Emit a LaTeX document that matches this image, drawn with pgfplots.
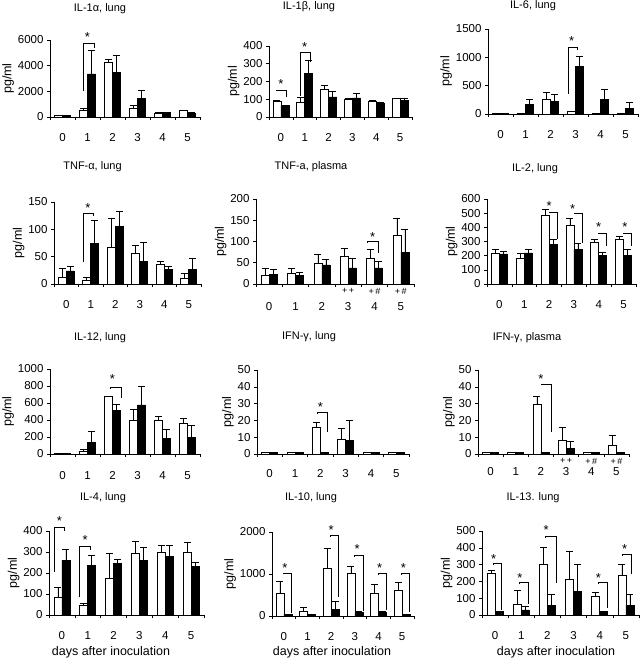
\documentclass[border=0pt]{standalone}
\usepackage{fontspec}
\setmainfont{Liberation Sans}
\usepackage{pgfplots}
\pgfplotsset{compat=1.18}
\pgfplotsset{
 panel/.style={
   scale only axis, anchor=south west, clip=false,
   ybar=0pt, bar width=8pt,
   xmin=-0.5, xmax=5.5, ymin=0,
   axis x line*=bottom, axis y line*=left,
   axis line style={-, line width=0.6pt},
   every tick/.style={black, line width=0.6pt},
   tick align=outside, major tick length=3pt,
   xtick={-0.5,0.5,1.5,2.5,3.5,4.5,5.5}, xticklabels={},
   extra x ticks={0,1,2,3,4,5},
   extra x tick labels={0,1,2,3,4,5},
   extra x tick style={major tick length=0pt},
   scaled y ticks=false,
   /pgf/number format/1000 sep={},
   /pgf/number format/assume math mode=true,
   tick label style={font=\fontsize{11.5}{12}\selectfont},
   x tick label style={yshift=-13pt},
   ylabel={pg/ml}, ylabel shift=-3pt, ylabel style={font=\fontsize{12.5}{14}\selectfont},
 },
 wbar/.style={fill=white, draw=black, line width=0.6pt,
   error bars/y dir=plus, error bars/y explicit,
   error bars/error mark options={rotate=90, mark size=3.5pt, line width=0.6pt, black},
   error bars/error bar style={line width=0.6pt, black}},
 bbar/.style={wbar, fill=black},
}
% xL yL xR yR yTop xAst yAst
\newcommand\brk[7]{\draw[line width=0.6pt] (axis cs:#1,#2) -- (axis cs:#1,#5) -- (axis cs:#3,#5) -- (axis cs:#3,#4);
 \node[font=\fontsize{13}{14}\selectfont, inner sep=0pt, yshift=-2.5pt] at (axis cs:#6,#7) {*};}
\newcommand\ann[2]{\node[font=\fontsize{9}{10}\selectfont, inner sep=0pt, yshift=-7pt] at (axis cs:#1,0) {#2};}
\newcommand\ttl[3]{\node[font=\fontsize{11}{12}\selectfont] at (#1pt,-#2pt) {#3};}
\begin{document}
\begin{tikzpicture}
\useasboundingbox (0pt,0pt) rectangle (640pt,-659pt);
% ---------- row 1
\begin{axis}[panel, at={(50pt,-117pt)}, width=150pt, height=77pt, ymax=6000, ytick={0,2000,4000,6000}]
\addplot[wbar] coordinates {(0,100) +- (0,0) (1,490) +- (0,210) (2,4270) +- (0,260) (3,700) +- (0,180) (4,310) +- (0,40) (5,490) +- (0,40)};
\addplot[bbar] coordinates {(0,150) +- (0,0) (1,3360) +- (0,1810) (2,3470) +- (0,1370) (3,1470) +- (0,600) (4,360) +- (0,30) (5,310) +- (0,30)};
\brk{0.85}{1990}{1.28}{5350}{5740}{1.0}{6390}
\end{axis}
\ttl{100}{9}{IL-1α, lung}
\begin{axis}[panel, at={(269pt,-117pt)}, width=143pt, height=71pt, ymax=400, ytick={0,100,200,300,400}]
\addplot[wbar] coordinates {(0,91) +- (0,3) (1,85) +- (0,28) (2,155) +- (0,25) (3,98) +- (0,6) (4,89) +- (0,5) (5,104) +- (0,3)};
\addplot[bbar] coordinates {(0,66) +- (0,0) (1,245) +- (0,75) (2,113) +- (0,32) (3,108) +- (0,24) (4,75) +- (0,10) (5,94) +- (0,13)};
\brk{-0.19}{145}{0.24}{113}{151}{0.0}{198}
\brk{0.8}{120}{1.22}{311}{362}{1.0}{410}
\end{axis}
\ttl{309}{7}{IL-1β, lung}
\begin{axis}[panel, at={(488pt,-114pt)}, width=150pt, height=85pt, ymax=1500, ytick={0,500,1000,1500}]
\addplot[wbar] coordinates {(0,8) +- (0,0) (1,8) +- (0,0) (2,265) +- (0,117) (3,47) +- (0,0) (4,8) +- (0,0) (5,8) +- (0,0)};
\addplot[bbar] coordinates {(0,8) +- (0,0) (1,165) +- (0,100) (2,224) +- (0,117) (3,841) +- (0,177) (4,253) +- (0,188) (5,94) +- (0,118)};
\brk{2.7}{359}{3.08}{1135}{1182}{2.85}{1324}
\end{axis}
\ttl{533}{6}{IL-6, lung}
% ---------- row 2
\begin{axis}[panel, at={(54pt,-284pt)}, width=147pt, height=82pt, ymax=150, ytick={0,50,100,150}]
\addplot[wbar] coordinates {(0,13) +- (0,15.5) (1,7) +- (0,6) (2,68) +- (0,53) (3,57) +- (0,13) (4,36) +- (0,5) (5,10) +- (0,9)};
\addplot[bbar] coordinates {(0,24) +- (0,9) (1,74) +- (0,43) (2,106) +- (0,27) (3,42) +- (0,35) (4,27) +- (0,5) (5,27) +- (0,20)};
\brk{0.69}{41}{1.12}{125}{130}{0.88}{144}
\end{axis}
\ttl{92.5}{167}{TNF-α, lung}
\begin{axis}[panel, at={(256pt,-284pt)}, width=158pt, height=85pt, ymax=200, ytick={0,50,100,150,200}, x tick label style={yshift=-2pt}]
\addplot[wbar] coordinates {(0,20) +- (0,18) (1,26) +- (0,12) (2,49) +- (0,22) (3,65) +- (0,20) (4,61) +- (0,21) (5,114) +- (0,41)};
\addplot[bbar] coordinates {(0,22) +- (0,13) (1,20) +- (0,8) (2,45) +- (0,12) (3,38) +- (0,23) (4,38) +- (0,15) (5,75) +- (0,53)};
\brk{3.72}{97}{4.16}{73}{100}{3.93}{116}
\ann{3}{+\,+}\ann{4}{+\,\#}\ann{5}{+\,\#}
\end{axis}
\ttl{311}{167}{TNF-a, plasma}
\begin{axis}[panel, at={(487pt,-284pt)}, width=149pt, height=85pt, ymax=600, ytick={0,100,200,300,400,500,600}]
\addplot[wbar] coordinates {(0,219) +- (0,28) (1,184) +- (0,35) (2,482) +- (0,47) (3,412) +- (0,54) (4,294) +- (0,24) (5,318) +- (0,18)};
\addplot[bbar] coordinates {(0,212) +- (0,18) (1,219) +- (0,28) (2,282) +- (0,31) (3,247) +- (0,42) (4,200) +- (0,24) (5,200) +- (0,42)};
\brk{2.02}{500}{2.32}{318}{506}{2.0}{565}
\brk{3.02}{495}{3.32}{289}{501}{2.95}{548}
\brk{3.98}{355}{4.3}{266}{360}{4.0}{419}
\brk{4.98}{355}{5.3}{266}{360}{5.05}{419}
\end{axis}
\ttl{535}{169}{IL-2, lung}
% ---------- row 3
\begin{axis}[panel, at={(50pt,-454pt)}, width=150pt, height=85pt, ymax=1000, ytick={0,200,400,600,800,1000}, x tick label style={yshift=-1pt}]
\addplot[wbar] coordinates {(0,10) +- (0,0) (1,31) +- (0,20) (2,676) +- (0,0) (3,391) +- (0,136) (4,391) +- (0,50) (5,363) +- (0,59)};
\addplot[bbar] coordinates {(0,10) +- (0,0) (1,141) +- (0,132) (2,512) +- (0,74) (3,578) +- (0,223) (4,188) +- (0,97) (5,199) +- (0,137)};
\brk{1.9}{760}{2.37}{664}{781}{2.0}{910}
\end{axis}
\ttl{100}{338}{IL-12, lung}
\begin{axis}[panel, at={(257pt,-454pt)}, width=152pt, height=84pt, ymax=50, ytick={0,10,20,30,40,50}, x tick label style={yshift=1pt}]
\addplot[wbar] coordinates {(0,1) +- (0,0) (1,1) +- (0,0) (2,15.8) +- (0,3) (3,8.5) +- (0,6.9) (4,1) +- (0,0) (5,1) +- (0,0)};
\addplot[bbar] coordinates {(0,1) +- (0,0) (1,1) +- (0,0) (2,1) +- (0,0) (3,8.1) +- (0,11.9) (4,1) +- (0,0) (5,1) +- (0,0)};
\brk{1.88}{24}{2.28}{13}{24.7}{2.0}{29.6}
\end{axis}
\ttl{309}{337}{IFN-γ, lung}
\begin{axis}[panel, at={(478pt,-454pt)}, width=151pt, height=84pt, ymax=50, ytick={0,10,20,30,40,50}, x tick label style={yshift=3pt}]
\addplot[wbar] coordinates {(0,1) +- (0,0) (1,1) +- (0,0) (2,29.6) +- (0,4.6) (3,7.9) +- (0,7.9) (4,1) +- (0,0) (5,4.9) +- (0,6.1)};
\addplot[bbar] coordinates {(0,1) +- (0,0) (1,1) +- (0,0) (2,1) +- (0,0) (3,3.2) +- (0,4.3) (4,1) +- (0,0) (5,1) +- (0,0)};
\brk{2.0}{41}{2.4}{13}{41.5}{2.0}{46.4}
\ann{3}{+\,+}\ann{4}{+\,\#}\ann{5}{+\,\#}
\end{axis}
\ttl{527}{338}{IFN-γ, plasma}
% ---------- row 4
\begin{axis}[panel, at={(49pt,-615pt)}, width=155pt, height=84pt, ymax=400, ytick={0,100,200,300,400}]
\addplot[wbar] coordinates {(0,82) +- (0,52) (1,47) +- (0,11) (2,174) +- (0,118) (3,296) +- (0,55) (4,300) +- (0,32) (5,300) +- (0,45)};
\addplot[bbar] coordinates {(0,261) +- (0,50) (1,237) +- (0,48) (2,245) +- (0,21) (3,261) +- (0,63) (4,280) +- (0,52) (5,232) +- (0,18)};
\brk{-0.31}{205}{0.08}{400}{419}{-0.1}{458}
\brk{0.69}{84}{1.08}{310}{329}{0.9}{368}
\end{axis}
\ttl{103}{498}{IL-4, lung}
\begin{axis}[panel, at={(272pt,-616pt)}, width=142pt, height=84pt, ymax=2000, ytick={0,1000,2000}]
\addplot[wbar] coordinates {(0,538) +- (0,300) (1,103) +- (0,102) (2,1130) +- (0,475) (3,1028) +- (0,166) (4,538) +- (0,213) (5,601) +- (0,190)};
\addplot[bbar] coordinates {(0,40) +- (0,10) (1,40) +- (0,10) (2,158) +- (0,198) (3,79) +- (0,24) (4,79) +- (0,40) (5,40) +- (0,10)};
\brk{-0.04}{990}{0.32}{63}{1028}{0.05}{1209}
\brk{1.98}{1880}{2.32}{458}{1921}{2.0}{2103}
\brk{2.96}{1410}{3.34}{126}{1447}{3.1}{1644}
\brk{3.98}{975}{4.33}{142}{1012}{4.05}{1209}
\brk{4.96}{975}{5.32}{103}{1012}{5.05}{1209}
\end{axis}
\ttl{311}{498}{IL-10, lung}
\begin{axis}[panel, at={(482pt,-615pt)}, width=157pt, height=84pt, ymax=500, ytick={0,100,200,300,400,500}]
\addplot[wbar] coordinates {(0,251) +- (0,16) (1,65) +- (0,83) (2,302) +- (0,103) (3,211) +- (0,168) (4,109) +- (0,25) (5,235) +- (0,67)};
\addplot[bbar] coordinates {(0,20) +- (0,0) (1,30) +- (0,23) (2,59) +- (0,64) (3,142) +- (0,160) (4,20) +- (0,0) (5,59) +- (0,64)};
\brk{-0.08}{296}{0.24}{30}{306}{-0.05}{350}
\brk{0.92}{182}{1.27}{65}{192}{0.95}{237}
\brk{1.93}{458}{2.33}{188}{468}{1.95}{518}
\brk{3.93}{182}{4.28}{40}{192}{3.95}{237}
\brk{4.88}{352}{5.22}{247}{362}{4.95}{409}
\end{axis}
\ttl{533}{498}{IL-13. lung}
\node[font=\fontsize{12.5}{14}\selectfont] at (111pt,-652pt) {days after inoculation};
\node[font=\fontsize{12.5}{14}\selectfont] at (332pt,-652pt) {days after inoculation};
\node[font=\fontsize{12.5}{14}\selectfont] at (556pt,-652pt) {days after inoculation};
\end{tikzpicture}
\end{document}
